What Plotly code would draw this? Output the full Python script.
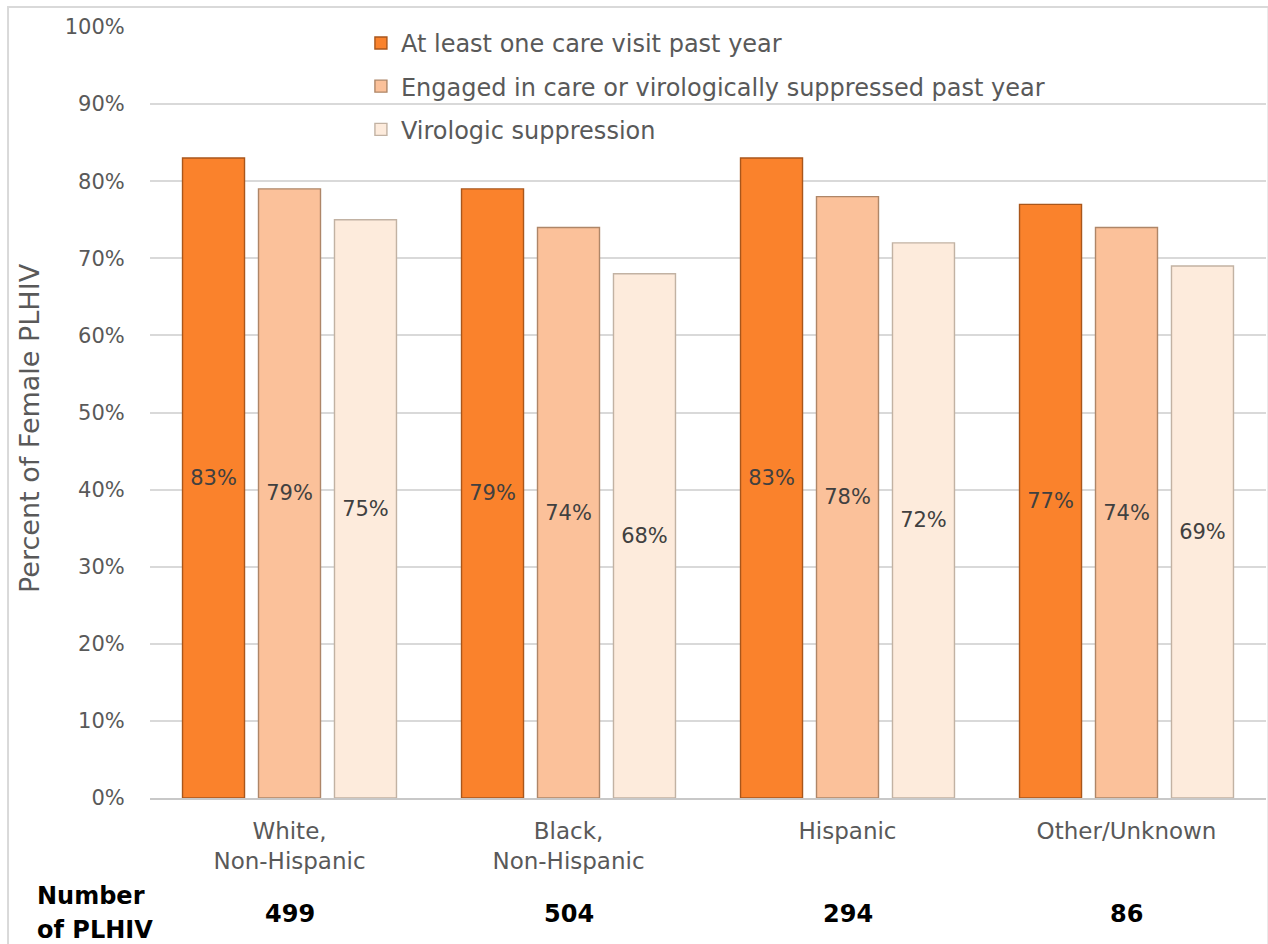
import plotly.graph_objects as go

# Care outcomes among female PLHIV by race/ethnicity
categories = ["White,<br>Non-Hispanic", "Black,<br>Non-Hispanic", "Hispanic", "Other/Unknown"]
series_names = [
    "At least one care visit past year",
    "Engaged in care or virologically suppressed past year",
    "Virologic suppression",
]
care_visit = [83, 79, 83, 77]
engaged_or_suppressed = [79, 74, 78, 74]
virologic_suppression = [75, 68, 72, 69]
plhiv_counts = ["499", "504", "294", "86"]
y_ticks = [0, 10, 20, 30, 40, 50, 60, 70, 80, 90, 100]

fill_colors = ["#FA822C", "#FBC19A", "#FDEBDC"]
edge_colors = ["#A9561B", "#AE8668", "#C2B2A3"]
series_values = [care_visit, engaged_or_suppressed, virologic_suppression]

FONT = "DejaVu Sans"
GRAY = "#595959"

fig = go.Figure()
for i, (name, vals) in enumerate(zip(series_names, series_values)):
    fig.add_trace(go.Bar(
        x=categories,
        y=vals,
        name=name,
        legendgroup=f"g{i}",
        marker=dict(color=fill_colors[i], line=dict(color=edge_colors[i], width=1.4)),
        text=[f"{v}%" for v in vals],
        textposition="inside",
        insidetextanchor="middle",
        textangle=0,
        constraintext="none",
        textfont=dict(family=FONT, size=21, color="#404040"),
        hoverinfo="skip",
    ))

annotations = []
# Y axis title
annotations.append(dict(
    text="Percent of Female PLHIV", textangle=-90,
    xref="paper", yref="paper", x=-0.1075, y=0.480,
    xanchor="center", yanchor="middle", showarrow=False,
    font=dict(family=FONT, size=27, color=GRAY),
))
# Row header for counts
annotations.append(dict(
    text="<b>Number</b>", xref="paper", yref="paper",
    x=-0.1030, y=-0.127, xanchor="left", yanchor="middle", showarrow=False,
    font=dict(family=FONT, size=24, color="#000000"),
))
annotations.append(dict(
    text="<b>of PLHIV</b>", xref="paper", yref="paper",
    x=-0.1030, y=-0.171, xanchor="left", yanchor="middle", showarrow=False,
    font=dict(family=FONT, size=24, color="#000000"),
))
# Counts under each category
for cat, n in zip(categories, plhiv_counts):
    annotations.append(dict(
        text=f"<b>{n}</b>", xref="x", yref="paper",
        x=cat, y=-0.150, xanchor="center", yanchor="middle", showarrow=False,
        font=dict(family=FONT, size=24, color="#000000"),
    ))

# Light frame along left, top and right edges
frame = dict(
    type="path", xref="paper", yref="paper",
    path="M -0.1272,-0.25 L -0.1272,1.0259 L 1.0022,1.0259 L 1.0022,-0.25",
    line=dict(color="#D9D9D9", width=2),
)

fig.update_layout(
    width=1268, height=944,
    margin=dict(l=150, r=2, t=27, b=146),
    paper_bgcolor="white", plot_bgcolor="white",
    barmode="group", bargap=0.183, bargroupgap=0.184,
    font=dict(family=FONT, size=20, color=GRAY),
    showlegend=True,
    legend=dict(
        x=0.189, y=1.008, xanchor="left", yanchor="top",
        bgcolor="rgba(0,0,0,0)", tracegroupgap=9, itemwidth=30,
        font=dict(family=FONT, size=24, color=GRAY),
        itemclick=False, itemdoubleclick=False,
    ),
    xaxis=dict(
        showgrid=False, showline=True, linecolor="#C8C8C8", linewidth=2,
        ticks="outside", ticklen=11, tickcolor="rgba(0,0,0,0)",
        tickfont=dict(family=FONT, size=23, color=GRAY),
        fixedrange=True,
    ),
    yaxis=dict(
        range=[0, 100], tickvals=y_ticks,
        ticktext=[f"{t}%" for t in y_ticks],
        showgrid=True, gridcolor="#D9D9D9", gridwidth=2,
        zeroline=False, showline=False,
        ticks="outside", ticklen=20, tickcolor="rgba(0,0,0,0)",
        tickfont=dict(family=FONT, size=21, color=GRAY),
        fixedrange=True,
    ),
    annotations=annotations,
    shapes=[frame],
)

fig.write_html("out.html", config={"displayModeBar": False})
